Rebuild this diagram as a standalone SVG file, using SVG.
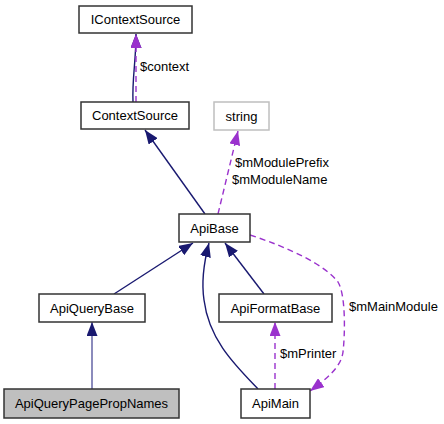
<svg xmlns="http://www.w3.org/2000/svg" width="444" height="424" viewBox="0 0 444 424">
<style>
  .node rect { fill: #ffffff; stroke: #333333; stroke-width: 1.5; }
  .node text { font-family: "Liberation Sans", Arial, sans-serif; font-size: 13px; fill: #000000; text-anchor: middle; }
  #n_string rect { stroke: #bfbfbf; }
  #n_ApiQueryPagePropNames rect { fill: #bfbfbf; }
  .inh { fill: none; stroke: #191970; stroke-width: 1.4; }
  .inh.sel { stroke: #5a5aa0; }
  .use { fill: none; stroke: #9a32cd; stroke-width: 1.4; stroke-dasharray: 6,4; }
  .lbl { font-family: "Liberation Sans", Arial, sans-serif; font-size: 13px; fill: #000000; }
</style>
<defs>
  <marker id="aInh" markerUnits="userSpaceOnUse" markerWidth="14" markerHeight="11" refX="14" refY="5.5" orient="auto">
    <path d="M0,0 L14,5.5 L0,11 z" fill="#191970"/>
  </marker>
  <marker id="aUse" markerUnits="userSpaceOnUse" markerWidth="14" markerHeight="11" refX="14" refY="5.5" orient="auto">
    <path d="M0,0 L14,5.5 L0,11 z" fill="#9a32cd"/>
  </marker>
</defs>
<g id="edges">
  <path class="inh" d="M133,102 C132,78 136,62 136,34" marker-end="url(#aInh)"/>
  <path class="use" d="M136,102 L136,34" marker-end="url(#aUse)"/>
  <path class="inh" d="M205,214 L145,130" marker-end="url(#aInh)"/>
  <path class="use" d="M218,214 L238,131" marker-end="url(#aUse)"/>
  <path class="inh" d="M114,294 L193,243" marker-end="url(#aInh)"/>
  <path class="inh" d="M258,389 C235,365 209,340 204,300 C201,280 204,262 209,243" marker-end="url(#aInh)"/>
  <path class="inh" d="M264,294 L225,243" marker-end="url(#aInh)"/>
  <path class="inh sel" d="M92,389 L92,322" marker-end="url(#aInh)"/>
  <path class="use" d="M275,389 L275,322" marker-end="url(#aUse)"/>
  <path class="use" d="M250,235 C290,248 325,265 338,282 C346,295 345,335 343,352 C341,368 325,380 310,391" marker-end="url(#aUse)"/>
  <text class="lbl" x="140" y="71">$context</text>
  <text class="lbl" x="235" y="167">$mModulePrefix</text>
  <text class="lbl" x="232" y="184">$mModuleName</text>
  <text class="lbl" x="349" y="311">$mMainModule</text>
  <text class="lbl" x="280" y="358">$mPrinter</text>
</g>
<g id="n_IContextSource" class="node">
  <rect x="79" y="6" width="113" height="27"/>
  <text x="135.5" y="24">IContextSource</text>
</g>
<g id="n_ContextSource" class="node">
  <rect x="81" y="102" width="108" height="27"/>
  <text x="135" y="120">ContextSource</text>
</g>
<g id="n_string" class="node">
  <rect x="214" y="102" width="55" height="28"/>
  <text x="241.5" y="120.5">string</text>
</g>
<g id="n_ApiBase" class="node">
  <rect x="179" y="214" width="71" height="28"/>
  <text x="214.5" y="232.5">ApiBase</text>
</g>
<g id="n_ApiQueryBase" class="node">
  <rect x="39" y="294" width="106" height="28"/>
  <text x="92" y="312.5">ApiQueryBase</text>
</g>
<g id="n_ApiFormatBase" class="node">
  <rect x="219" y="294" width="113" height="28"/>
  <text x="275.5" y="312.5">ApiFormatBase</text>
</g>
<g id="n_ApiQueryPagePropNames" class="node">
  <rect x="4" y="389" width="175" height="29"/>
  <text x="91.5" y="408">ApiQueryPagePropNames</text>
</g>
<g id="n_ApiMain" class="node">
  <rect x="241" y="389" width="69" height="29"/>
  <text x="275.5" y="408">ApiMain</text>
</g>
</svg>
